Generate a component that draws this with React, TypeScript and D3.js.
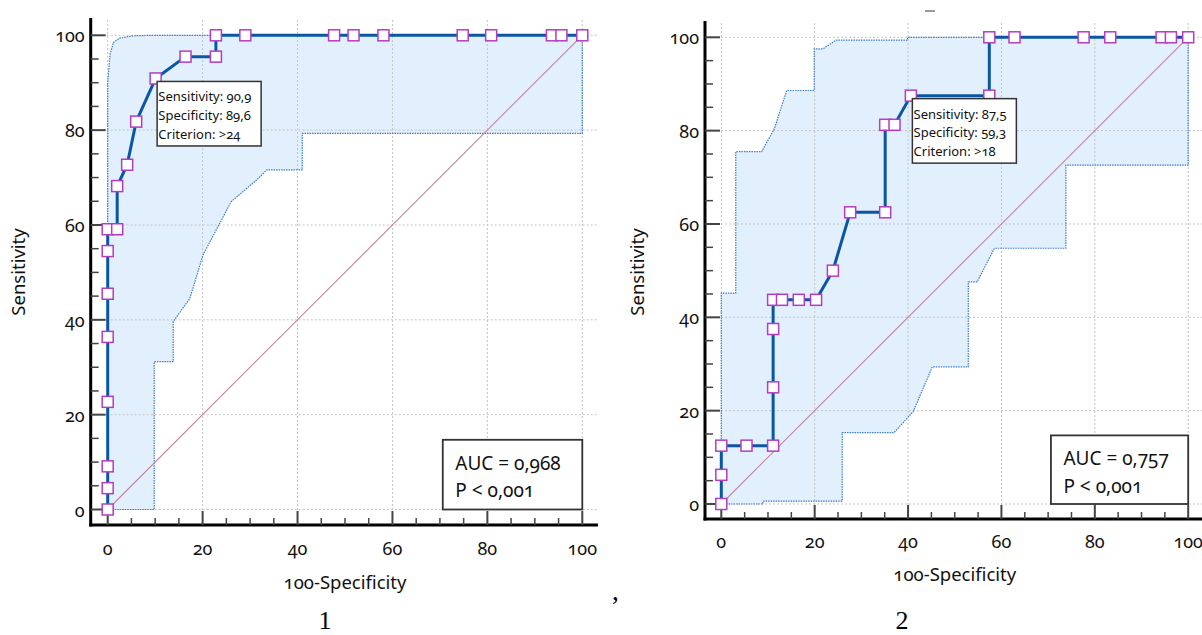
import React from 'react';
import * as d3 from 'd3';

// ---- chart 1 : ROC curve ----
const roc1Fpr = [0, 0, 0, 0, 0, 0, 0, 0, 2, 2, 4.1, 6, 10.1, 16.4, 22.8, 22.8, 29, 47.7, 51.8, 58.1, 74.8, 80.8, 93.6, 95.6, 100];
const roc1Sens = [0, 4.5, 9.1, 22.7, 36.4, 45.5, 54.5, 59.1, 59.1, 68.2, 72.7, 81.8, 90.9, 95.5, 95.5, 100, 100, 100, 100, 100, 100, 100, 100, 100, 100];
const band1UpperX = [0, 0, 0.5, 1.2, 2.5, 5.4, 9.6, 100];
const band1UpperY = [0, 90, 96, 98.5, 99.4, 99.9, 100, 100];
const band1LowerX = [0, 9.8, 9.8, 13.8, 13.8, 17.3, 20.1, 26, 31.4, 33.5, 41, 41, 100];
const band1LowerY = [0, 0, 31.2, 31.2, 39.6, 44.5, 53.7, 64.9, 69.5, 71.6, 71.6, 79.3, 79.3];
const chart1Best = 12;
const chart1Note = ['Sensitivity: 90,9', 'Specificity: 89,6', 'Criterion: >24'];
const chart1Stats = ['AUC = 0,968', 'P < 0,001'];

// ---- chart 2 : ROC curve ----
const roc2Fpr = [0, 0, 0, 5.4, 11.1, 11.1, 11.1, 11.1, 13, 16.6, 20.3, 23.9, 27.6, 35.1, 35.1, 37.1, 40.6, 57.4, 57.4, 62.8, 77.6, 83.3, 94.3, 96.3, 100];
const roc2Sens = [0, 6.25, 12.5, 12.5, 12.5, 25, 37.5, 43.75, 43.75, 43.75, 43.75, 50, 62.5, 62.5, 81.25, 81.25, 87.5, 87.5, 100, 100, 100, 100, 100, 100, 100];
const band2UpperX = [0, 0, 3.1, 3.1, 8.65, 11.4, 14, 19.9, 19.9, 21.7, 24.6, 39.9, 39.9, 100];
const band2UpperY = [0, 45.2, 45.2, 75.5, 75.5, 80.5, 88.6, 88.6, 97.5, 97.5, 99.4, 99.4, 100, 100];
const band2LowerX = [0, 8.9, 8.9, 25.9, 25.9, 37, 41.1, 45.2, 52.9, 52.9, 54.8, 58.5, 73.8, 73.8, 100];
const band2LowerY = [0, 0, 0.6, 0.6, 15.3, 15.3, 19.8, 29.4, 29.4, 47.6, 47.6, 54.8, 54.8, 72.6, 72.6];
const chart2Best = 16;
const chart2Note = ['Sensitivity: 87,5', 'Specificity: 59,3', 'Criterion: >18'];
const chart2Stats = ['AUC = 0,757', 'P < 0,001'];

const xTitle = '100-Specificity';
const yTitle = 'Sensitivity';

const FONT = '"Noto Sans", Lato, sans-serif';
// old-style figures, like the original software output
const numStyle: React.CSSProperties = { fontVariantNumeric: 'oldstyle-nums', fontFeatureSettings: '"onum"' };

type P = [number, number];
const zip = (a: number[], b: number[]): P[] => a.map((v, i) => [v, b[i]]);

function RocChart(props: any) {
  const { xr, yr, axisX, axisY, top, right, tickOff, titleY, yTitleX, fpr, sens, upX, upY, loX, loY, best, note, stats, caption, capX } = props;
  const x = d3.scaleLinear().domain([0, 100]).range(xr);
  const y = d3.scaleLinear().domain([0, 100]).range(yr);
  const line = d3.line<P>().x(d => x(d[0])).y(d => y(d[1]));
  const upper = zip(upX, upY);
  const lower = zip(loX, loY);
  const band = upper.concat(lower.slice().reverse());
  const roc = zip(fpr, sens);
  const major = x.ticks(5);
  const minor = d3.range(0, 101, 5).filter(v => v % 20 !== 0);
  const bp = roc[best];
  const bx = x(bp[0]) + 1.5, by = y(bp[1]) + 3;
  const sx1 = x(100), sy1 = y(0);
  const sw = (x(100) - x(70.6)), sh = (y(0) - y(14.7));
  return (
    <g>
      <path d={line(band) + 'Z'} fill="#e2effd" stroke="none" />
      {/* grid */}
      {major.map(v => (
        <g key={'g' + v}>
          <line x1={x(v)} x2={x(v)} y1={top + 2} y2={axisY} stroke="#c4c4c4" strokeWidth={1} strokeDasharray="2,2" />
          <line x1={axisX} x2={right} y1={y(v)} y2={y(v)} stroke="#c4c4c4" strokeWidth={1} strokeDasharray="2,2" />
        </g>
      ))}
      <path d={line(band) + 'Z'} fill="none" stroke="#3b7ccf" strokeWidth={1.2} strokeDasharray="1.5,1" />
      <line x1={x(0)} y1={y(0)} x2={x(100)} y2={y(100)} stroke="#c7839f" strokeWidth={1.1} />
      {/* axes */}
      <line x1={axisX} x2={axisX} y1={top} y2={axisY + 1.5} stroke="#000" strokeWidth={3} />
      <line x1={axisX - 1.5} x2={right} y1={axisY} y2={axisY} stroke="#000" strokeWidth={3} />
      {major.map(v => (
        <g key={'t' + v}>
          <line x1={axisX} x2={axisX + 15} y1={y(v)} y2={y(v)} stroke="#444" strokeWidth={2} />
          <line x1={x(v)} x2={x(v)} y1={axisY} y2={axisY - 14} stroke="#444" strokeWidth={2} />
          <text x={axisX - 6} y={y(v) + 7} textAnchor="end" fontSize={18} fill="#111" style={numStyle}>{v}</text>
          <text x={x(v)} y={axisY + tickOff} textAnchor="middle" fontSize={18} fill="#111" style={numStyle}>{v}</text>
        </g>
      ))}
      {minor.map(v => (
        <g key={'m' + v}>
          <line x1={axisX} x2={axisX + 8} y1={y(v)} y2={y(v)} stroke="#444" strokeWidth={1.5} />
          <line x1={x(v)} x2={x(v)} y1={axisY} y2={axisY - 7} stroke="#444" strokeWidth={1.5} />
        </g>
      ))}
      {/* roc */}
      <path d={line(roc) || ''} fill="none" stroke="#0b56a4" strokeWidth={3} strokeLinejoin="round" />
      {roc.map((d, i) => (
        <rect key={'p' + i} x={x(d[0]) - 5.5} y={y(d[1]) - 5.5} width={11} height={11} fill="#fff" stroke="#b43cc2" strokeWidth={1.5} />
      ))}
      {/* criterion note */}
      <rect x={bx} y={by} width={104} height={64.5} fill="#fff" stroke="#333" strokeWidth={1.5} />
      {note.map((t: string, i: number) => (
        <text key={'n' + i} x={bx + 1.2} y={by + 20 + i * 18.8} fontSize={13} fill="#111" style={numStyle}>{t}</text>
      ))}
      {/* stats */}
      <rect x={sx1 - sw} y={sy1 - sh} width={sw} height={sh} fill="#fff" stroke="#333" strokeWidth={1.8} />
      {stats.map((t: string, i: number) => (
        <text key={'s' + i} x={sx1 - sw + 12.5} y={sy1 - sh + 30 + i * 27.3} fontSize={19} fill="#111" style={numStyle}>{t}</text>
      ))}
      {/* titles */}
      <text x={(xr[0] + xr[1]) / 2} y={titleY} textAnchor="middle" fontSize={18.5} fill="#111" style={numStyle}>{xTitle}</text>
      <text transform={`translate(${yTitleX},272) rotate(-90)`} textAnchor="middle" fontSize={18.5} fill="#111">{yTitle}</text>
      <text x={capX} y={629} textAnchor="middle" fontSize={26} fontFamily='"Liberation Serif", "Times New Roman", serif' fill="#000">{caption}</text>
    </g>
  );
}

export default function App() {
  return (
    <svg width={1202} height={635} style={{ position: 'absolute', left: 0, top: 0, background: '#fff' }} fontFamily={FONT}>
      <rect width={1202} height={635} fill="#fff" />
      <RocChart xr={[107.7, 582.3]} yr={[509.5, 35.3]} axisX={90.7} axisY={525} top={18} right={598}
        tickOff={30} titleY={589} yTitleX={25}
        fpr={roc1Fpr} sens={roc1Sens} upX={band1UpperX} upY={band1UpperY} loX={band1LowerX} loY={band1LowerY}
        best={chart1Best} note={chart1Note} stats={chart1Stats} caption="1" capX={325} />
      <RocChart xr={[721.3, 1188.2]} yr={[504, 37.3]} axisX={705} axisY={519} top={21} right={1210}
        tickOff={29} titleY={581} yTitleX={644}
        fpr={roc2Fpr} sens={roc2Sens} upX={band2UpperX} upY={band2UpperY} loX={band2LowerX} loY={band2LowerY}
        best={chart2Best} note={chart2Note} stats={chart2Stats} caption="2" capX={902} />
      <text x={612} y={600} fontSize={27} fontFamily='"Liberation Serif", serif' fill="#000">,</text>
      <line x1={925} x2={935} y1={11} y2={11} stroke="#777" strokeWidth={1.5} />
    </svg>
  );
}
